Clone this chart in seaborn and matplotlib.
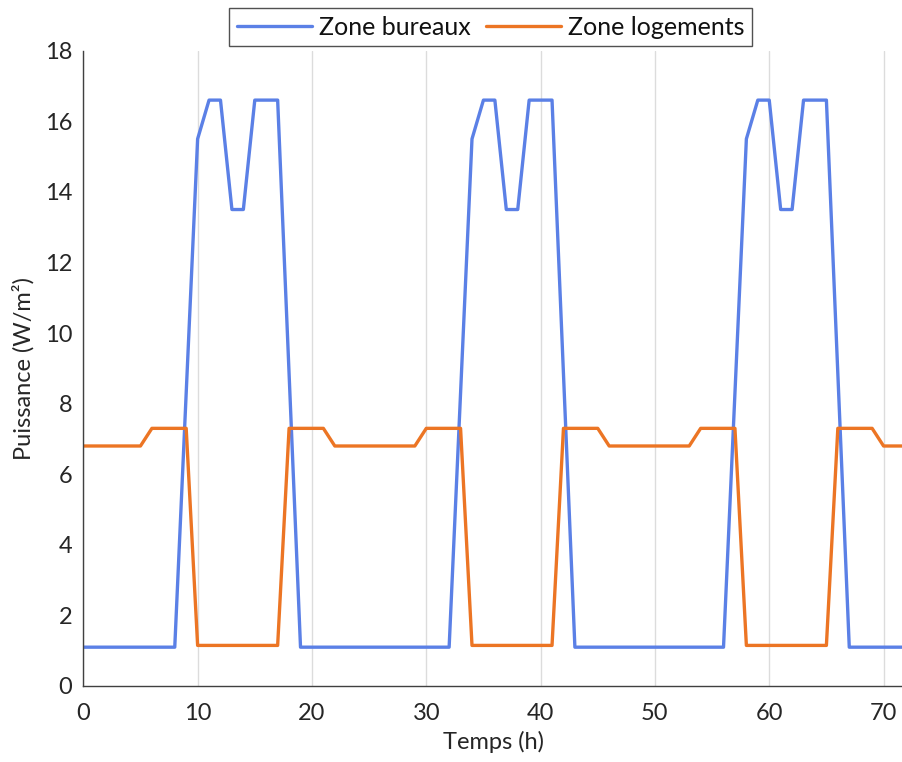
import matplotlib
matplotlib.use("Agg")
import matplotlib.pyplot as plt
import seaborn as sns
import pandas as pd

hours = list(range(73))
bureaux = [1.1, 1.1, 1.1, 1.1, 1.1, 1.1, 1.1, 1.1, 1.1, 8.3, 15.5, 16.6, 16.6, 13.5, 13.5, 16.6, 16.6, 16.6, 8.85, 1.1, 1.1, 1.1, 1.1, 1.1,
           1.1, 1.1, 1.1, 1.1, 1.1, 1.1, 1.1, 1.1, 1.1, 8.3, 15.5, 16.6, 16.6, 13.5, 13.5, 16.6, 16.6, 16.6, 8.85, 1.1, 1.1, 1.1, 1.1, 1.1,
           1.1, 1.1, 1.1, 1.1, 1.1, 1.1, 1.1, 1.1, 1.1, 8.3, 15.5, 16.6, 16.6, 13.5, 13.5, 16.6, 16.6, 16.6, 8.85, 1.1, 1.1, 1.1, 1.1, 1.1,
           1.1]
logements = [6.8, 6.8, 6.8, 6.8, 6.8, 6.8, 7.3, 7.3, 7.3, 7.3, 1.15, 1.15, 1.15, 1.15, 1.15, 1.15, 1.15, 1.15, 7.3, 7.3, 7.3, 7.3, 6.8, 6.8,
             6.8, 6.8, 6.8, 6.8, 6.8, 6.8, 7.3, 7.3, 7.3, 7.3, 1.15, 1.15, 1.15, 1.15, 1.15, 1.15, 1.15, 1.15, 7.3, 7.3, 7.3, 7.3, 6.8, 6.8,
             6.8, 6.8, 6.8, 6.8, 6.8, 6.8, 7.3, 7.3, 7.3, 7.3, 1.15, 1.15, 1.15, 1.15, 1.15, 1.15, 1.15, 1.15, 7.3, 7.3, 7.3, 7.3, 6.8, 6.8,
             6.8]
series_names = ["Zone bureaux", "Zone logements"]
colors = ["#5b80e6", "#ec7524"]
xticks = [0, 10, 20, 30, 40, 50, 60, 70]
yticks = [0, 2, 4, 6, 8, 10, 12, 14, 16, 18]

df = pd.DataFrame({
    "Temps": hours * 2,
    "Puissance": bureaux + logements,
    "Zone": [series_names[0]] * len(hours) + [series_names[1]] * len(hours),
})

sns.set_style("white")
plt.rcParams["font.family"] = ["Lato", "DejaVu Sans"]

fig = plt.figure(figsize=(9.03, 7.62), dpi=100)
ax = fig.add_axes([83.3 / 903, 1 - 686 / 762, 1 - 83.3 / 903, (686 - 50.7) / 762])

sns.lineplot(data=df, x="Temps", y="Puissance", hue="Zone", palette=colors,
             linewidth=2.4, ax=ax)

ax.set_xlim(0, 71.7)
ax.set_ylim(0, 18)
ax.set_xticks(xticks)
ax.set_yticks(yticks)
ax.xaxis.grid(True, color="#dcdcdc", linewidth=1.0)
ax.yaxis.grid(False)
ax.set_axisbelow(True)

for s in ["top", "right"]:
    ax.spines[s].set_visible(False)
for s in ["left", "bottom"]:
    ax.spines[s].set_color("#404040")
    ax.spines[s].set_linewidth(1.0)

ax.tick_params(axis="both", direction="in", length=5, width=1.0, color="#404040",
               labelsize=17, labelcolor="#262626", pad=8)
ax.tick_params(axis="x", pad=12)
ax.set_xlabel("Temps (h)", fontsize=17, color="#262626", labelpad=5)
ax.set_ylabel("Puissance (W/m²)", fontsize=17, color="#262626", labelpad=7)

leg = ax.legend(loc="center", bbox_to_anchor=(0.497, 1.037), ncol=2, fontsize=18,
                frameon=True, fancybox=False, edgecolor="#262626", handlelength=3.0,
                columnspacing=0.6, handletextpad=0.3, borderpad=0.3, borderaxespad=0)
leg.get_frame().set_linewidth(1.0)
for t in leg.get_texts():
    t.set_color("#111111")

fig.savefig("out.png", dpi=100)
